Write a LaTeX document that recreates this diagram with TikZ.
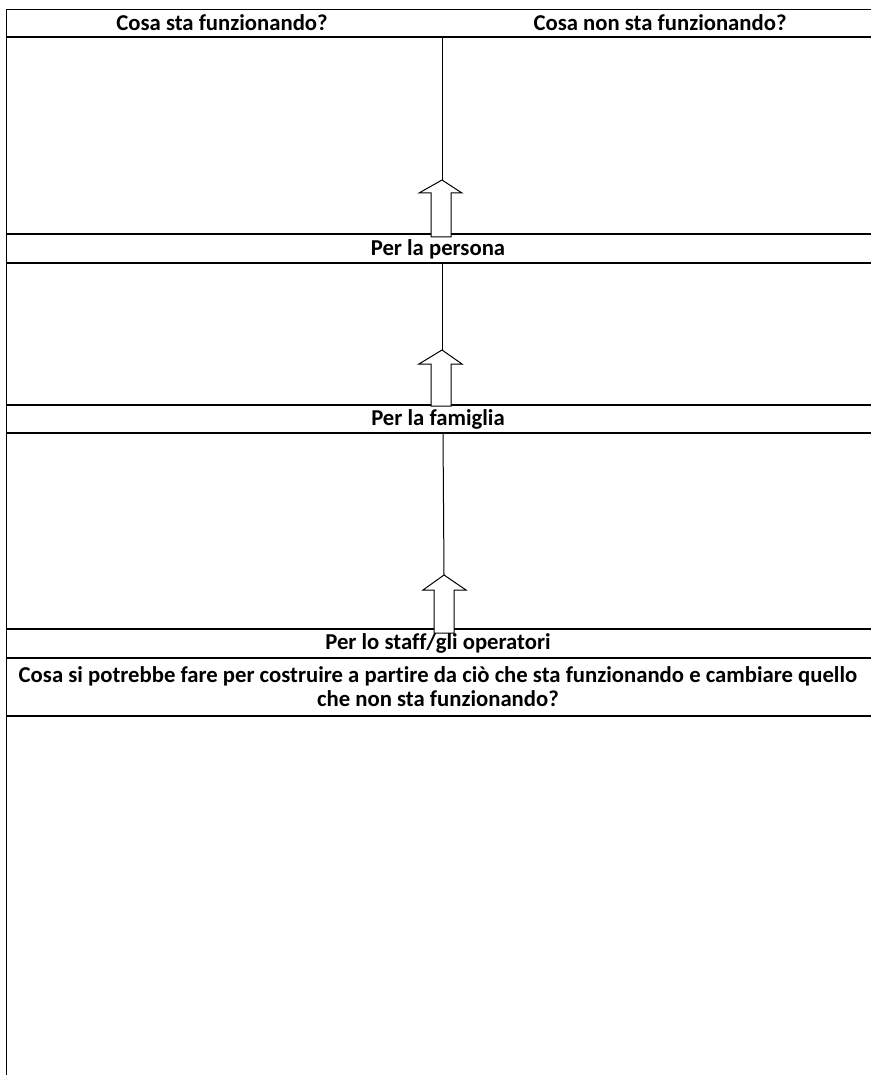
\documentclass[tikz,border=0pt]{standalone}
\usepackage{fontspec}
\setmainfont{Carlito}[Ligatures=NoCommon]
\begin{document}
\begin{tikzpicture}[x=1pt,y=-1pt,
  rule/.style={line width=1.3pt},
  lbl/.style={font=\bfseries\fontsize{22.7}{23.5}\selectfont, text=black, inner sep=0pt, align=center},
  blockarrow/.style={draw, fill=white, line width=1pt, line join=miter}]
\useasboundingbox (0,0) rectangle (871,1075);
% named anchor points
\coordinate (L) at (6.5,9.5);
\coordinate (Lb) at (6.5,1075);
% horizontal rules
\foreach \y in {9.5,37,234,263,405,433,629,658,716}{
  \draw[rule] (6.5,\y) -- (871,\y);
}
\draw[rule] (L) -- (Lb);
% arrow tips and divider starts
\coordinate (d1) at (442,37);   \coordinate (t1) at (442,180);
\coordinate (d2) at (442,263);  \coordinate (t2) at (442,350);
\coordinate (d3) at (443,433);  \coordinate (t3) at (444,575);
\draw[line width=1pt] (d1) -- (t1);
\draw[line width=1pt] (d2) -- (t2);
\draw[line width=1pt] (d3) -- (t3);
% block arrows
\draw[blockarrow] (t1) -- (462,193) -- (451,193) -- (451,237) -- (431,237) -- (431,193) -- (419,193) -- cycle;
\draw[blockarrow] (t2) -- (462,364) -- (451,364) -- (451,406) -- (431,406) -- (431,364) -- (419,364) -- cycle;
\draw[blockarrow] (t3) -- (466,590) -- (454,590) -- (454,633) -- (434,633) -- (434,590) -- (423,590) -- cycle;
% labels
\node[lbl] (h1) at (222,23) {Cosa sta funzionando?};
\node[lbl] (h2) at (660,23) {Cosa non sta funzionando?};
\node[lbl] (r1) at (438,249) {Per la persona};
\node[lbl] (r2) at (438,419) {Per la famiglia};
\node[lbl] (r3) at (438,643.5) {Per lo staff/gli operatori};
\node[lbl] (q) at (438,686.5) {Cosa si potrebbe fare per costruire a partire da ciò che sta funzionando e cambiare quello\\che non sta funzionando?};
\end{tikzpicture}
\end{document}
